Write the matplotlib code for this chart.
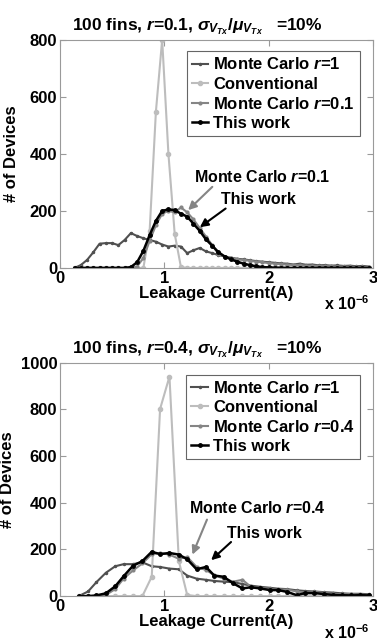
import numpy as np
import matplotlib
matplotlib.use('Agg')
from matplotlib import pyplot as plt

plt.rcParams['font.family'] = ['Liberation Sans', 'DejaVu Sans']
plt.rcParams['font.weight'] = 'bold'
plt.rcParams['axes.titleweight'] = 'bold'
plt.rcParams['axes.labelweight'] = 'bold'
plt.rcParams['mathtext.fontset'] = 'custom'
plt.rcParams['mathtext.rm'] = 'Liberation Sans'
plt.rcParams['mathtext.it'] = 'Liberation Sans:italic'
plt.rcParams['mathtext.bfit'] = 'Liberation Sans:italic:bold'

# leakage current bins, in units of 1e-6 A
x_top = [0.14, 0.20, 0.26, 0.32, 0.38, 0.44, 0.50, 0.56, 0.62, 0.68, 0.74, 0.80,
         0.86, 0.92, 0.98, 1.04, 1.10, 1.16, 1.22, 1.28, 1.34, 1.40, 1.46, 1.52,
         1.58, 1.64, 1.70, 1.76, 1.82, 1.88, 1.94, 2.00, 2.06, 2.12, 2.18, 2.24,
         2.30, 2.36, 2.42, 2.48, 2.54, 2.60, 2.66, 2.72, 2.78, 2.84, 2.90, 2.96]
mc1_top = [0, 10, 28, 55, 85, 87, 87, 80, 98, 122, 112, 104,
           98, 92, 82, 75, 78, 75, 52, 62, 70, 58, 52, 45,
           40, 36, 32, 30, 27, 24, 22, 20, 18, 16, 15, 12,
           15, 11, 12, 9, 10, 8, 9, 7, 8, 6, 7, 5]
conv_top = [0, 0, 0, 0, 0, 0, 0, 0, 0, 0, 0, 0,
            130, 548, 800, 400, 120, 3, 0, 0, 0, 0, 0, 0,
            0, 0, 0, 0, 0, 0, 0, 0, 0, 0, 0, 0,
            0, 0, 0, 0, 0, 0, 0, 0, 0, 0, 0, 0]
mcr_top = [0, 0, 0, 0, 0, 0, 0, 0, 0, 0, 5, 35,
           95, 150, 190, 200, 195, 212, 195, 170, 140, 110, 80, 48,
           40, 35, 30, 28, 25, 22, 20, 17, 15, 13, 12, 10,
           10, 8, 8, 7, 6, 6, 5, 5, 4, 4, 3, 3]
work_top = [0, 0, 0, 0, 0, 0, 0, 0, 0, 3, 20, 60,
            115, 165, 200, 205, 203, 190, 180, 155, 130, 100, 78, 55,
            40, 30, 22, 15, 10, 6, 3, 2, 1, 1, 0, 0,
            0, 0, 0, 0, 0, 0, 0, 0, 0, 0, 0, 0]

x_bot = [0.18, 0.27, 0.35, 0.44, 0.53, 0.61, 0.70, 0.79, 0.88, 0.96, 1.05,
         1.14, 1.22, 1.31, 1.40, 1.48, 1.57, 1.66, 1.75, 1.83, 1.92, 2.01,
         2.09, 2.18, 2.27, 2.35, 2.44, 2.53, 2.62, 2.70, 2.79, 2.88, 2.96]
mc1_bot = [0, 20, 60, 100, 128, 137, 137, 145, 128, 125, 118,
           115, 88, 75, 70, 65, 62, 60, 52, 45, 40, 36,
           32, 30, 25, 22, 20, 17, 15, 12, 10, 10, 8]
conv_bot = [0, 0, 0, 0, 0, 0, 0, 0, 83, 802, 941,
            150, 5, 0, 0, 0, 0, 0, 0, 0, 0, 0,
            0, 0, 0, 0, 0, 0, 0, 0, 0, 0, 0]
mcr_bot = [0, 0, 0, 5, 30, 75, 110, 140, 180, 185, 178,
           160, 168, 125, 112, 90, 75, 62, 70, 40, 35, 32,
           28, 28, 20, 15, 18, 14, 10, 8, 8, 6, 5]
work_bot = [0, 0, 3, 12, 42, 85, 130, 150, 190, 180, 185,
            178, 158, 115, 125, 88, 83, 55, 33, 38, 33, 26,
            26, 18, 4, 13, 13, 9, 5, 4, 3, 4, 3]

c_mc1 = '#505050'
c_conv = '#bdbdbd'
c_mcr = '#858585'
c_work = 'black'
c_axis = '#9a9a9a'


def panel(ax, x, mc1, conv, mcr, work, rval, ymax, ann, ylab_x):
    ax.plot(x, mc1, '-', color=c_mc1, lw=1.5, marker='.', ms=3, label=r'Monte Carlo $\mathbfit{r}$=1')
    ax.plot(x, conv, '-', color=c_conv, lw=1.5, marker='o', ms=3, mec=c_conv, label='Conventional')
    ax.plot(x, mcr, '-', color=c_mcr, lw=1.5, marker='.', ms=4, label=r'Monte Carlo $\mathbfit{r}$=' + rval)
    ax.plot(x, work, '-', color=c_work, lw=1.8, marker='.', ms=5, label='This work')
    ax.set_xlim(0, 3)
    ax.set_ylim(0, ymax)
    ax.set_xticks([0, 1, 2, 3])
    ax.set_yticks(np.arange(0, ymax + 1, 200))
    ax.tick_params(direction='in', length=4, color=c_axis, labelsize=12, pad=2,
                   top=True, right=True)
    for s in ax.spines.values():
        s.set_color(c_axis)
    ax.set_xlabel('Leakage Current(A)', fontsize=12, labelpad=0)
    ax.set_ylabel('# of Devices', fontsize=12)
    ax.yaxis.set_label_coords(ylab_x, 0.5)
    ax.set_title(r'100 fins, $\mathbfit{r}$=' + rval + r', $\sigma_{V_{Tx}}/\mu_{V_{Tx}}$   =10%',
                 fontsize=12.5, pad=7, x=0.44)
    ax.text(0.99, -0.155, r'x 10$^{-6}$', transform=ax.transAxes, ha='right', va='center', fontsize=11.5)
    leg = ax.legend(loc='upper right', bbox_to_anchor=(0.985, 0.985), fontsize=12,
                    handlelength=1.0, handletextpad=0.3, labelspacing=0.25,
                    borderpad=0.3, fancybox=False, framealpha=1)
    leg.get_frame().set_edgecolor('#666666')
    leg.get_frame().set_linewidth(0.8)
    (gtip, gtail, gtxt), (btip, btail, btxt) = ann
    ax.annotate('', xy=gtip, xytext=gtail,
                arrowprops=dict(arrowstyle='-|>', color=c_mcr, lw=1.5, mutation_scale=12))
    ax.text(gtxt[0], gtxt[1], r'Monte Carlo $\mathbfit{r}$=' + rval, ha='center', va='center', fontsize=11.5)
    ax.annotate('', xy=btip, xytext=btail,
                arrowprops=dict(arrowstyle='-|>', color='black', lw=1.5, mutation_scale=12))
    ax.text(btxt[0], btxt[1], 'This work', ha='center', va='center', fontsize=11.5)


fig = plt.figure(figsize=(3.77, 6.41), dpi=100)
ax1 = fig.add_axes([0.159, 0.582, 0.830, 0.356])
ax2 = fig.add_axes([0.159, 0.070, 0.830, 0.364])

panel(ax1, x_top, mc1_top, conv_top, mcr_top, work_top, '0.1', 800,
      (((1.21, 196), (1.48, 291), (1.94, 319)),
       ((1.32, 137), (1.61, 214), (1.90, 239))), -0.13)
panel(ax2, x_bot, mc1_bot, conv_bot, mcr_bot, work_bot, '0.4', 1000,
      (((1.26, 167), (1.42, 339), (1.89, 378)),
       ((1.43, 146), (1.66, 240), (1.96, 270))), -0.145)

fig.savefig('out.png', dpi=100)
